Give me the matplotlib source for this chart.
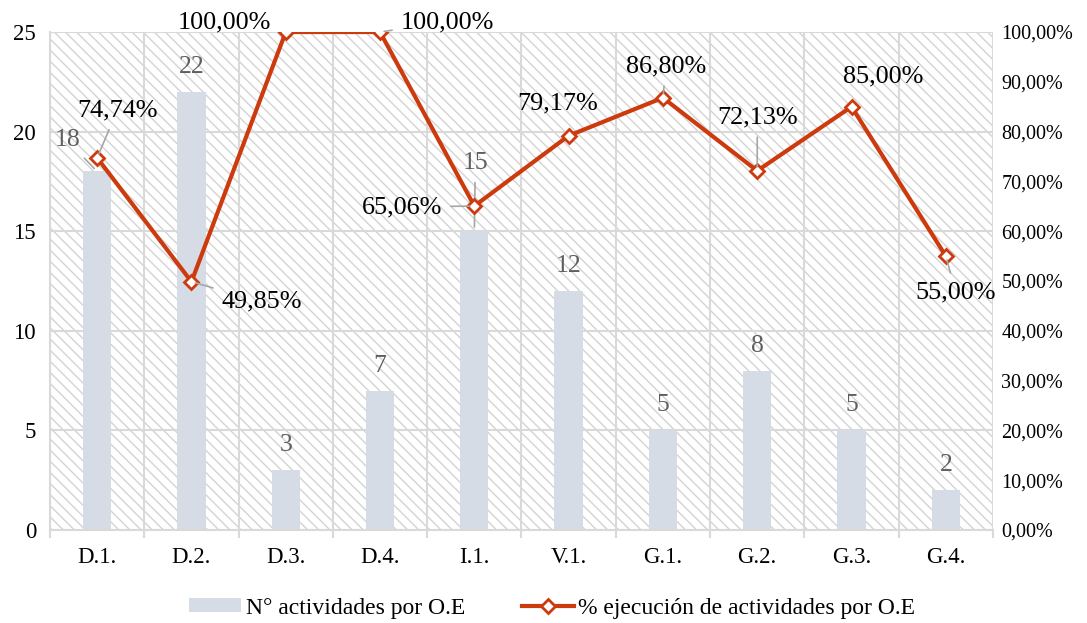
import matplotlib
matplotlib.use("Agg")
import matplotlib.pyplot as plt
from matplotlib.patches import Rectangle
from matplotlib.lines import Line2D
from matplotlib.patches import Patch

plt.rcParams['font.family'] = ['Liberation Serif', 'DejaVu Serif']
plt.rcParams['hatch.color'] = '#D3D3D3'
plt.rcParams['hatch.linewidth'] = 1.0

categorias = ['D.1.', 'D.2.', 'D.3.', 'D.4.', 'I.1.', 'V.1.', 'G.1.', 'G.2.', 'G.3.', 'G.4.']
actividades = [18, 22, 3, 7, 15, 12, 5, 8, 5, 2]
ejecucion = [0.7474, 0.4985, 1.0, 1.0, 0.6506, 0.7917, 0.8680, 0.7213, 0.85, 0.55]

# desplazamiento de etiquetas en pixeles (dx, dy) y si llevan linea guia
off_pct = [(20, 47, True), (70, -20, True), (-61, 10, False), (67, 10, True),
           (-72, -1, True), (-11, 32, False), (3, 31, True), (0, 53, True),
           (32, 30, False), (10, -36, True)]
off_bar = {0: (-30, 31, True), 4: (1, 68, True)}

barra_color = '#D6DCE5'
linea_color = '#CC3A0E'
gris = '#D9D9D9'

fig = plt.figure(figsize=(10.87, 6.23), dpi=100)
ax = fig.add_axes([0.046, 0.1493, 0.8675, 0.7993])
ax2 = ax.twinx()

x = list(range(len(categorias)))

# fondo rayado
ax.add_patch(Rectangle((0, 0), 1, 1, transform=ax.transAxes, facecolor='white',
                       edgecolor='#D3D3D3', hatch='\\\\\\', linewidth=0, zorder=0.1))

ax.bar(x, actividades, width=0.30, color=barra_color, zorder=2)
ax.set_xlim(-0.5, len(categorias) - 0.5)
ax.set_ylim(0, 25)
ax.set_yticks(range(0, 26, 5))
ax.set_axisbelow(True)
ax.grid(axis='y', color=gris, linewidth=1.5)
ax.set_xticks(x)
ax.set_xticklabels(categorias)
ax.set_xticks([i - 0.5 for i in range(len(categorias) + 1)], minor=True)
ax.grid(axis='x', which='minor', color=gris, linewidth=1.5)
ax.tick_params(axis='x', which='major', length=0, labelsize=16.5, pad=12)
ax.tick_params(axis='x', which='minor', length=6, color=gris, width=1.5)
ax.tick_params(axis='y', length=0, labelsize=16.5, pad=10)
for s in ['top', 'right']:
    ax.spines[s].set_visible(False)
for s in ['left', 'bottom']:
    ax.spines[s].set_color(gris)
    ax.spines[s].set_linewidth(1.5)

ax2.plot(x, ejecucion, color=linea_color, linewidth=3.0, marker='D', markersize=7,
         markerfacecolor='white', markeredgecolor=linea_color, markeredgewidth=2, zorder=3)
ax2.set_ylim(0, 1)
ticks_pct = [i / 10 for i in range(11)]
ax2.set_yticks(ticks_pct)
ax2.set_yticklabels([f"{t * 100:.2f}%".replace('.', ',') for t in ticks_pct])
ax2.tick_params(axis='y', length=0, labelsize=14.5, pad=6)
for s in ax2.spines.values():
    s.set_visible(False)

guia = dict(arrowstyle='-', color='#A6A6A6', linewidth=1.2, shrinkA=4, shrinkB=3)

for i, v in enumerate(actividades):
    dx, dy, linea = off_bar.get(i, (0, 25, False))
    ax.annotate(str(v), (i, v), xytext=(dx, dy), textcoords='offset pixels',
                ha='center', va='center', fontsize=18.5, color='#5F5F5F',
                arrowprops=guia if linea else None, zorder=5)

for i, p in enumerate(ejecucion):
    dx, dy, linea = off_pct[i]
    txt = f"{p * 100:.2f}%".replace('.', ',')
    ax2.annotate(txt, (i, p), xytext=(dx, dy), textcoords='offset pixels',
                 ha='center', va='center', fontsize=18.8, color='black',
                 arrowprops=guia if linea else None, zorder=5)

handles = [Patch(facecolor=barra_color, edgecolor='none'),
           Line2D([0], [0], color=linea_color, linewidth=3.0, marker='D', markersize=7,
                  markerfacecolor='white', markeredgecolor=linea_color, markeredgewidth=2)]
fig.legend(handles, ['N° actividades por O.E', '% ejecución de actividades por O.E'],
           loc='center', bbox_to_anchor=(0.508, 0.024), ncol=2, frameon=False,
           fontsize=17, handlelength=2.2, handleheight=0.55, columnspacing=2.4,
           handletextpad=0.2)

fig.savefig('out.png', dpi=100)
